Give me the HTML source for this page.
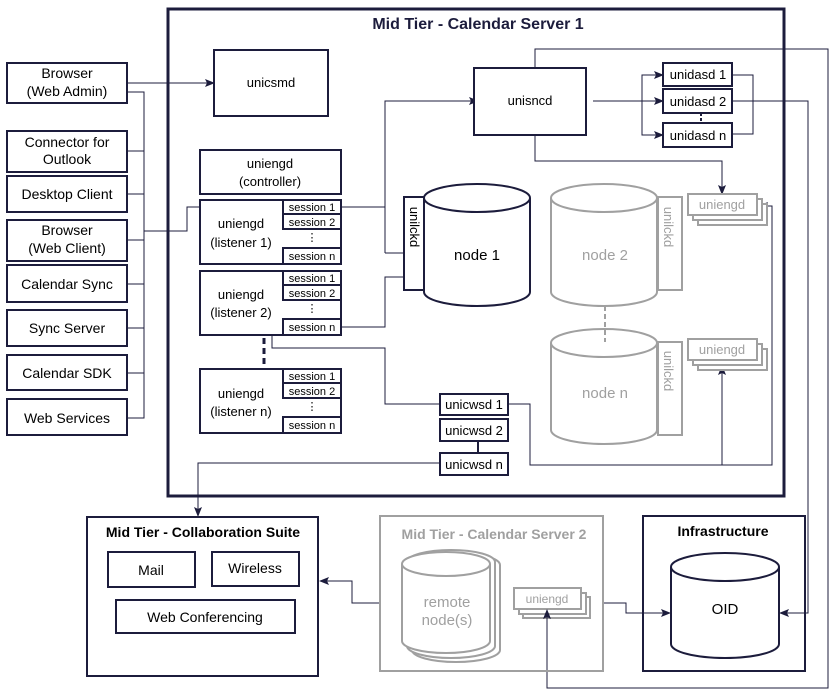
<!DOCTYPE html>
<html><head><meta charset="utf-8"><style>
html,body{margin:0;padding:0;background:#fff}
svg{display:block}
text{font-family:"Liberation Sans",Arial,sans-serif}
</style></head><body>
<svg width="840" height="700" viewBox="0 0 840 700" xmlns="http://www.w3.org/2000/svg">
<defs>
<marker id="a" markerWidth="10" markerHeight="10" refX="9" refY="5" orient="auto" markerUnits="userSpaceOnUse">
<path d="M0,1 L10,5 L0,9 L2,5 z" fill="#1c1c3c"/></marker>
</defs>
<g fill="none" stroke="#1c1c3c" stroke-width="1">
<polyline points="127,83 214,83" marker-end="url(#a)"/>
<polyline points="127,92 144,92 144,418 127,418"/>
<line x1="127" y1="151" x2="144" y2="151"/>
<line x1="127" y1="194" x2="144" y2="194"/>
<line x1="127" y1="240" x2="144" y2="240"/>
<line x1="127" y1="284" x2="144" y2="284"/>
<line x1="127" y1="328" x2="144" y2="328"/>
<line x1="127" y1="373" x2="144" y2="373"/>
<polyline points="144,231 187,231 187,207 283,207" marker-end="url(#a)"/>
<polyline points="341,207 385,207"/>
<polyline points="385,253 385,101 478,101" marker-end="url(#a)"/>
<polyline points="385,253 424,253" marker-end="url(#a)"/>
<polyline points="341,327 385,327 385,277 424,277" marker-end="url(#a)"/>
<polyline points="440,404 385,404 385,348 272,348 272,327 283,327" marker-end="url(#a)"/>
<polyline points="593,101 663,101" marker-end="url(#a)"/>
<polyline points="663,75 642,75 642,135 663,135" />
<line x1="653" y1="75" x2="663" y2="75" marker-end="url(#a)"/>
<line x1="653" y1="135" x2="663" y2="135" marker-end="url(#a)"/>
<polyline points="732,75 753,75 753,134 732,134"/>
<polyline points="535,68 535,49 828,49 828,688 547,688 547,625"/>
<polyline points="732,101 808,101 808,613 780,613" marker-end="url(#a)"/>
<polyline points="535,135 535,161 722,161 722,194" marker-end="url(#a)"/>
<polyline points="508,404 530,404 530,465 772,465 772,206 759,206" marker-end="url(#a)"/>
<polyline points="722,465 722,366" marker-end="url(#a)"/>
<polyline points="440,463 198,463 198,516" marker-end="url(#a)"/>
<line x1="478" y1="441" x2="478" y2="453" stroke-width="2"/>
<polyline points="380,603 352,603 352,581 320,581" marker-end="url(#a)"/>
<polyline points="604,603 626,603 626,613 670,613" marker-end="url(#a)"/>
</g>
<rect x="168" y="9" width="616" height="487" fill="none" stroke="#1c1c3c" stroke-width="3"/>
<text x="478" y="29" font-size="16" font-weight="bold" text-anchor="middle" fill="#1c1c3c">Mid Tier - Calendar Server 1</text>
<g fill="#fff" stroke="#1c1c3c" stroke-width="2">
<rect x="7" y="63" width="120" height="40"/>
<rect x="7" y="131" width="120" height="41"/>
<rect x="7" y="176" width="120" height="36"/>
<rect x="7" y="220" width="120" height="41"/>
<rect x="7" y="265" width="120" height="37"/>
<rect x="7" y="310" width="120" height="36"/>
<rect x="7" y="355" width="120" height="35"/>
<rect x="7" y="399" width="120" height="36"/>
</g>
<g font-size="14" text-anchor="middle" fill="#000">
<text x="67" y="78">Browser</text><text x="67" y="96">(Web Admin)</text>
<text x="67" y="147">Connector for</text><text x="67" y="164">Outlook</text>
<text x="67" y="199">Desktop Client</text>
<text x="67" y="235">Browser</text><text x="67" y="253">(Web Client)</text>
<text x="67" y="289">Calendar Sync</text>
<text x="67" y="333">Sync Server</text>
<text x="67" y="378">Calendar SDK</text>
<text x="67" y="423">Web Services</text>
</g>
<g fill="#fff" stroke="#1c1c3c" stroke-width="2">
<rect x="214" y="50" width="114" height="66"/>
<rect x="474" y="68" width="112" height="67"/>
<rect x="663" y="63" width="69" height="23"/>
<rect x="663" y="89" width="69" height="24"/>
<rect x="663" y="123" width="69" height="24"/>
<rect x="200" y="150" width="141" height="44"/>
<rect x="200" y="200" width="141" height="64"/>
<rect x="200" y="271" width="141" height="64"/>
<rect x="200" y="369" width="141" height="64"/>
<rect x="440" y="394" width="68" height="21"/>
<rect x="440" y="419" width="68" height="22"/>
<rect x="440" y="453" width="68" height="22"/>
</g>
<line x1="701" y1="113" x2="701" y2="123" stroke="#1c1c3c" stroke-width="2" stroke-dasharray="3,2"/>
<line x1="264" y1="338" x2="264" y2="366" stroke="#1c1c3c" stroke-width="3" stroke-dasharray="6,4"/>
<g fill="#fff" stroke="#1c1c3c" stroke-width="2">
<rect x="283" y="200" width="58" height="14"/><rect x="283" y="214" width="58" height="15"/><rect x="283" y="248" width="58" height="16"/>
<rect x="283" y="271" width="58" height="14"/><rect x="283" y="285" width="58" height="15"/><rect x="283" y="319" width="58" height="16"/>
<rect x="283" y="369" width="58" height="14"/><rect x="283" y="383" width="58" height="15"/><rect x="283" y="417" width="58" height="16"/>
</g>
<g font-size="11" text-anchor="middle" fill="#000">
<text x="312" y="211">session 1</text><text x="312" y="226">session 2</text><text x="312" y="241">⋮</text><text x="312" y="260">session n</text>
<text x="312" y="282">session 1</text><text x="312" y="297">session 2</text><text x="312" y="312">⋮</text><text x="312" y="331">session n</text>
<text x="312" y="380">session 1</text><text x="312" y="395">session 2</text><text x="312" y="410">⋮</text><text x="312" y="429">session n</text>
</g>
<g font-size="13" text-anchor="middle" fill="#000">
<text x="271" y="87">unicsmd</text>
<text x="530" y="105">unisncd</text>
<text x="698" y="79">unidasd 1</text>
<text x="698" y="106">unidasd 2</text>
<text x="698" y="140">unidasd n</text>
<text x="270" y="168">uniengd</text><text x="270" y="186">(controller)</text>
<text x="241" y="228">uniengd</text><text x="241" y="247">(listener 1)</text>
<text x="241" y="299">uniengd</text><text x="241" y="317">(listener 2)</text>
<text x="241" y="398">uniengd</text><text x="241" y="416">(listener n)</text>
<text x="474" y="409">unicwsd 1</text>
<text x="474" y="435">unicwsd 2</text>
<text x="474" y="469">unicwsd n</text>
</g>
<rect x="404" y="197" width="20" height="93" fill="#fff" stroke="#1c1c3c" stroke-width="2"/>
<text transform="translate(410,227) rotate(90)" font-size="13" text-anchor="middle" fill="#000">unilckd</text>
<path d="M424,198 L424,292 A53,14 0 0 0 530,292 L530,198 A53,14 0 0 0 424,198 A53,14 0 0 0 530,198" fill="#fff" stroke="#1c1c3c" stroke-width="2"/>
<text x="477" y="260" font-size="15" text-anchor="middle" fill="#000">node 1</text>
<g stroke="#a0a0a0" stroke-width="2" fill="#fff">
<rect x="658" y="197" width="24" height="93"/>
<path d="M551,198 L551,292 A53,14 0 0 0 657,292 L657,198 A53,14 0 0 0 551,198 A53,14 0 0 0 657,198"/>
<rect x="658" y="342" width="24" height="93"/>
<path d="M551,343 L551,430 A53,14 0 0 0 657,430 L657,343 A53,14 0 0 0 551,343 A53,14 0 0 0 657,343"/>
<rect x="698" y="204" width="69" height="21"/><rect x="693" y="199" width="69" height="21"/><rect x="688" y="194" width="69" height="21"/>
<rect x="698" y="349" width="69" height="21"/><rect x="693" y="344" width="69" height="21"/><rect x="688" y="339" width="69" height="21"/>
</g>
<line x1="605" y1="306" x2="605" y2="342" stroke="#a0a0a0" stroke-width="2" stroke-dasharray="5,3"/>
<g fill="#a0a0a0" font-size="13" text-anchor="middle">
<text transform="translate(664,227) rotate(90)">unilckd</text>
<text transform="translate(664,371) rotate(90)">unilckd</text>
<text x="722" y="209">uniengd</text>
<text x="722" y="354">uniengd</text>
</g>
<g fill="#a0a0a0" font-size="15" text-anchor="middle">
<text x="605" y="260">node 2</text>
<text x="605" y="398">node n</text>
</g>
<rect x="87" y="517" width="231" height="159" fill="none" stroke="#1c1c3c" stroke-width="2"/>
<text x="203" y="537" font-size="14" font-weight="bold" text-anchor="middle" fill="#000">Mid Tier - Collaboration Suite</text>
<g fill="#fff" stroke="#1c1c3c" stroke-width="2">
<rect x="108" y="552" width="87" height="35"/>
<rect x="212" y="552" width="87" height="34"/>
<rect x="116" y="600" width="179" height="33"/>
</g>
<g font-size="14" text-anchor="middle" fill="#000">
<text x="151" y="575">Mail</text><text x="255" y="573">Wireless</text><text x="205" y="622">Web Conferencing</text>
</g>
<rect x="380" y="516" width="223" height="155" fill="none" stroke="#a0a0a0" stroke-width="2"/>
<text x="494" y="539" font-size="14" font-weight="bold" text-anchor="middle" fill="#a0a0a0">Mid Tier - Calendar Server 2</text>
<g stroke="#a0a0a0" stroke-width="2" fill="#fff">
<path d="M412,565 L412,650 A44,12 0 0 0 500,650 L500,565 A44,12 0 0 0 412,565"/>
<path d="M407,562 L407,646 A44,12 0 0 0 495,646 L495,562 A44,12 0 0 0 407,562"/>
<path d="M402,564 L402,641 A44,12 0 0 0 490,641 L490,564 A44,12 0 0 0 402,564 A44,12 0 0 0 490,564"/>
<rect x="523" y="597" width="67" height="21"/><rect x="519" y="593" width="67" height="21"/><rect x="514" y="588" width="67" height="21"/>
</g>
<g fill="#a0a0a0" text-anchor="middle">
<text x="447" y="607" font-size="15">remote</text><text x="447" y="625" font-size="15">node(s)</text>
<text x="547" y="603" font-size="12">uniengd</text>
</g>
<line x1="547" y1="626" x2="547" y2="610" stroke="#1c1c3c" stroke-width="1" marker-end="url(#a)"/>
<rect x="643" y="516" width="162" height="155" fill="none" stroke="#1c1c3c" stroke-width="2"/>
<text x="723" y="536" font-size="14" font-weight="bold" text-anchor="middle" fill="#000">Infrastructure</text>
<path d="M671,567 L671,644 A54,14 0 0 0 779,644 L779,567 A54,14 0 0 0 671,567 A54,14 0 0 0 779,567" fill="#fff" stroke="#1c1c3c" stroke-width="2"/>
<text x="725" y="614" font-size="15" text-anchor="middle" fill="#000">OID</text>
</svg>
</body></html>
